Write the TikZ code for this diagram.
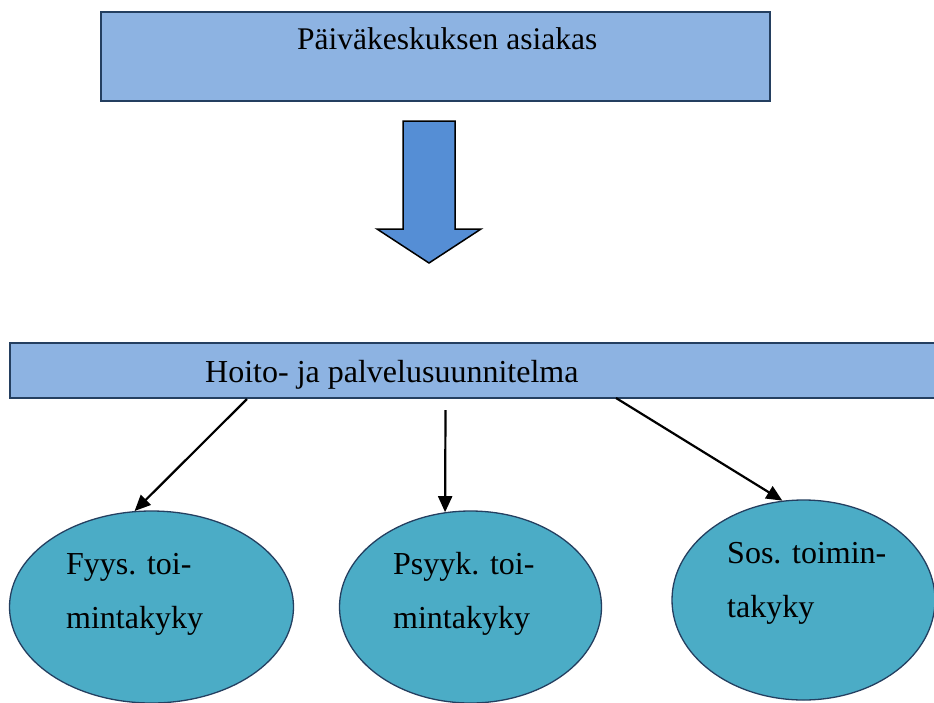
\documentclass[tikz,border=0pt]{standalone}
\usepackage{fontspec}
\setmainfont{Liberation Serif}
\usetikzlibrary{shapes.geometric,arrows.meta}
\definecolor{boxfill}{HTML}{8DB3E2}
\definecolor{boxline}{HTML}{243F60}
\definecolor{bigarrow}{HTML}{558ED5}
\definecolor{ellfill}{HTML}{4BACC6}
\tikzset{
  bluebox/.style={draw=boxline, fill=boxfill, line width=1.5pt, inner sep=0pt},
  bubble/.style={ellipse, draw=boxline, fill=ellfill, line width=1.3pt, inner sep=0pt},
  boxtext/.style={anchor=base west, inner sep=0pt, font=\fontsize{31.5}{38}\selectfont},
  bubtext/.style={anchor=base west, inner sep=0pt, align=left, font=\fontsize{32}{54}\selectfont},
  conn/.style={line width=2.2pt, -{Triangle[length=16pt,width=14pt]}}
}
\begin{document}
\begin{tikzpicture}[x=1pt,y=-1pt]
\useasboundingbox (0,0) rectangle (934,702);
% top box
\node[bluebox, minimum width=669pt, minimum height=89pt] (top) at (435.5,56.5) {};
\node[boxtext] (toptext) at (297,49) {Päiväkeskuksen asiakas};
% block arrow
\draw[fill=bigarrow, line width=1.5pt, line join=miter] (403,121) -- (455,121) -- (455,229) -- (481,229) -- (429,263) -- (377,229) -- (403,229) -- cycle;
% plan box
\node[bluebox, minimum width=940pt, minimum height=55pt] (plan) at (480,370.5) {};
\node[boxtext, font=\fontsize{32}{38}\selectfont] (plantext) at (205,382) {Hoito- ja palvelusuunnitelma};
% ellipses
\node[bubble, minimum width=284pt, minimum height=192pt] (e1) at (151.5,607) {};
\node[bubble, minimum width=262pt, minimum height=192pt] (e2) at (470.5,607) {};
\node[bubble, minimum width=263pt, minimum height=200pt] (e3) at (803.5,600) {};
\node[bubtext] (t1) at (66,628) {Fyys. toi-\\mintakyky};
\node[bubtext] (t2) at (393,628) {Psyyk. toi-\\mintakyky};
\node[bubtext] (t3) at (727,617) {Sos. toimin-\\takyky};
% connectors
\coordinate (s1) at (247,399);
\coordinate (s2) at (445.5,410);
\coordinate (s3) at (616,398);
\draw[conn] (s1) -- (e1.100);
\draw[conn] (s2) -- (e2.105);
\draw[conn] (s3) -- (e3.102);
\end{tikzpicture}
\end{document}
